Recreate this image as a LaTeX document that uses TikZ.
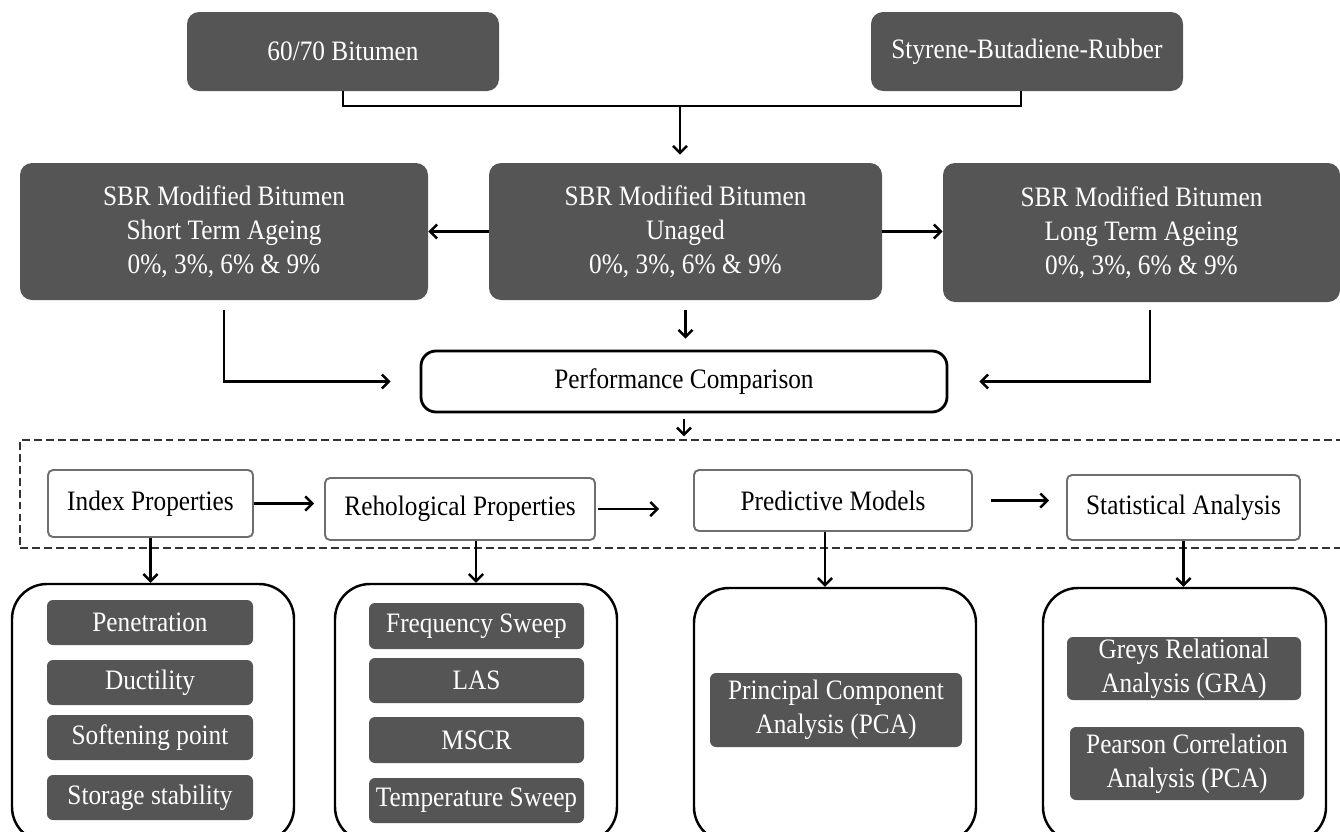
\documentclass[tikz,border=0pt]{standalone}
\usepackage{fontspec}
\setmainfont{Liberation Serif}[FakeStretch=0.9]
\usetikzlibrary{arrows.meta}
\definecolor{dk}{HTML}{555555}
\definecolor{bd}{HTML}{6E6E6E}
\begin{document}
\begin{tikzpicture}[x=0.02cm,y=-0.02cm,
  every node/.style={font=\fontsize{16}{19.4}\selectfont, align=center, inner sep=0pt},
  sz/.style 2 args={minimum width=#1*0.02cm, minimum height=#2*0.02cm},
  dkbox/.style={fill=dk, text=white, rounded corners=0.24cm},
  subbox/.style={fill=dk, text=white, rounded corners=0.12cm},
  perfbox/.style={draw, fill=white, line width=1.6pt, rounded corners=0.3cm},
  wbox/.style={draw=bd, fill=white, line width=1.1pt, rounded corners=0.1cm},
  cont/.style={draw, line width=1.4pt, rounded corners=0.7cm},
  dbx/.style={draw=black!80, line width=0.8pt, dash pattern=on 4.5pt off 2.3pt},
  ln/.style={line width=1.4pt},
  arr/.style={line width=1.4pt, -{Straight Barb[length=4pt,width=8pt]}}
]
\useasboundingbox (0,0) rectangle (1340,832);

% top row
\node[dkbox, sz={312}{79}] (b6070) at (343,51.5) {60/70 Bitumen};
\node[dkbox, sz={312}{79}] (sbr) at (1027,51.5) {Styrene-Butadiene-Rubber};

% middle row
\node[dkbox, sz={408}{137}] (short) at (224,231.5) {SBR Modified Bitumen\\Short Term Ageing\\0\%, 3\%, 6\% \& 9\%};
\node[dkbox, sz={393}{137}] (unaged) at (685.5,231.5) {SBR Modified Bitumen\\Unaged\\0\%, 3\%, 6\% \& 9\%};
\node[dkbox, sz={397}{139}] (long) at (1141.5,232.5) {SBR Modified Bitumen\\Long Term Ageing\\0\%, 3\%, 6\% \& 9\%};

% performance
\node[perfbox, sz={526}{61}] (perf) at (684,381.5) {Performance Comparison};

% dashed band
\node[dbx, sz={1325}{108}] (dbox) at (682.5,494) {};

\node[wbox, sz={205}{67}] (index) at (150.5,503.5) {Index Properties};
\node[wbox, sz={270}{62}] (rheo) at (460,509) {Rehological Properties};
\node[wbox, sz={278}{61}] (pred) at (833,500.5) {Predictive Models};
\node[wbox, sz={233}{65}] (stat) at (1183.5,507.5) {Statistical Analysis};

% containers
\node[cont, sz={282}{258}] (c1) at (153,713) {};
\node[cont, sz={282}{258}] (c2) at (476,713) {};
\node[cont, sz={282}{254}] (c3) at (835,715) {};
\node[cont, sz={283}{254}] (c4) at (1184.5,715) {};

% sub boxes
\node[subbox, sz={206}{45}] (pen) at (150,622.5) {Penetration};
\node[subbox, sz={206}{45}] (duc) at (150,682.5) {Ductility};
\node[subbox, sz={206}{45}] (soft) at (150,737.5) {Softening point};
\node[subbox, sz={206}{45}] (stor) at (150,797.5) {Storage stability};

\node[subbox, sz={215}{46}] (freq) at (476.5,626) {Frequency Sweep};
\node[subbox, sz={215}{45}] (las) at (476.5,680.5) {LAS};
\node[subbox, sz={215}{46}] (mscr) at (476.5,740) {MSCR};
\node[subbox, sz={215}{45}] (temp) at (476.5,800.5) {Temperature Sweep};

\node[subbox, sz={252}{74}] (pca) at (836,710) {Principal Component\\Analysis (PCA)};

\node[subbox, sz={234}{63}] (gra) at (1184,668.5) {Greys Relational\\Analysis (GRA)};
\node[subbox, sz={234}{73}] (pear) at (1187,763.5) {Pearson Correlation\\Analysis (PCA)};

% connectors
\coordinate (j1) at (680,106);
\coordinate (sd) at ([xshift=-0.12cm]sbr.south);
\draw[ln] (b6070.south) |- (j1) -| (sd);
\draw[arr, shorten >=0.16cm] (j1) -- (j1 |- unaged.north);

\draw[arr] (unaged.west) -- (unaged.west -| short.east);
\draw[arr] (unaged.east) -- (unaged.east -| long.west);

\draw[arr, shorten <=0.2cm, shorten >=0.58cm] (short.south) |- (perf.west);
\coordinate (lg) at ([xshift=0.17cm]long.south);
\draw[arr, shorten <=0.16cm, shorten >=0.62cm] (lg) |- (perf.east);
\draw[arr, shorten <=0.2cm, shorten >=0.22cm] (unaged.south) -- (unaged.south |- perf.north);
\draw[arr, shorten <=0.12cm, shorten >=0.06cm] (perf.south) -- (perf.south |- dbox.north);

\draw[arr, shorten >=0.2cm] (index.east) -- (index.east -| rheo.west);
\draw[arr, shorten <=0.04cm, shorten >=0.68cm] (rheo.east) -- (rheo.east -| pred.west);
\draw[arr, shorten <=0.36cm, shorten >=0.34cm] (pred.east) -- (pred.east -| stat.west);

\draw[arr] (index.south) -- (index.south |- c1.north);
\draw[arr] (c2.north |- rheo.south) -- (c2.north);
\coordinate (p3) at ([xshift=-0.2cm]c3.north);
\draw[arr] (p3 |- pred.south) -- (p3);
\draw[arr] (stat.south) -- (stat.south |- c4.north);
\end{tikzpicture}
\end{document}
